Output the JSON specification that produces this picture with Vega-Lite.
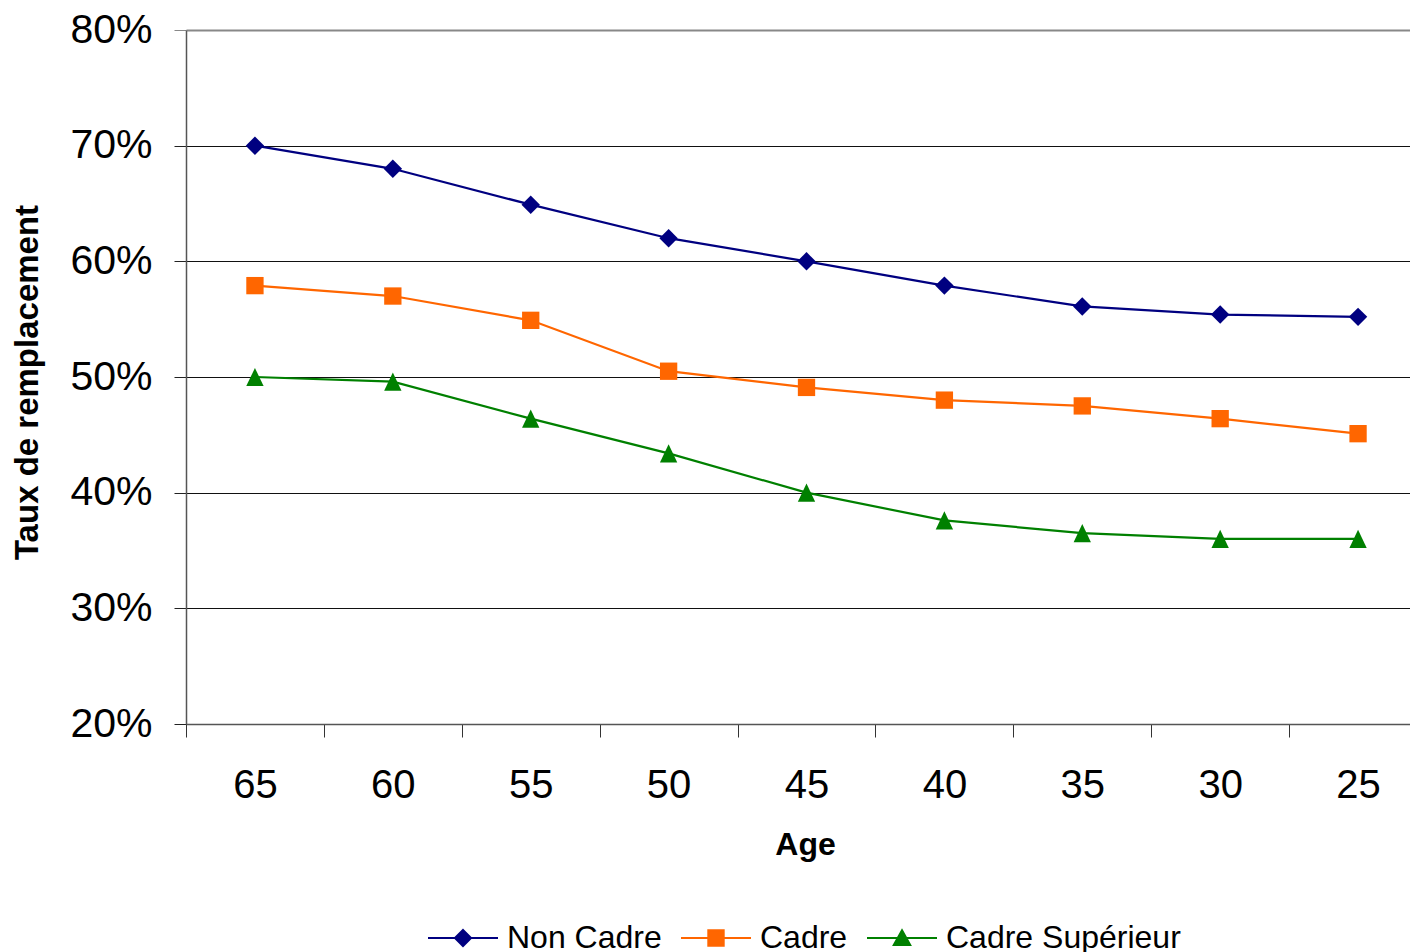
{
  "$schema": "https://vega.github.io/schema/vega-lite/v6.json",
  "width": 1224,
  "height": 694,
  "autosize": "none",
  "padding": {"left": 186, "top": 30, "right": 0, "bottom": 228},
  "background": "white",
  "config": {
    "view": {"stroke": null},
    "font": "Liberation Sans"
  },
  "data": {
    "values": [
      {"age": "65", "serie": "Non Cadre", "taux": 0.700},
      {"age": "60", "serie": "Non Cadre", "taux": 0.680},
      {"age": "55", "serie": "Non Cadre", "taux": 0.649},
      {"age": "50", "serie": "Non Cadre", "taux": 0.620},
      {"age": "45", "serie": "Non Cadre", "taux": 0.600},
      {"age": "40", "serie": "Non Cadre", "taux": 0.579},
      {"age": "35", "serie": "Non Cadre", "taux": 0.561},
      {"age": "30", "serie": "Non Cadre", "taux": 0.554},
      {"age": "25", "serie": "Non Cadre", "taux": 0.552},
      {"age": "65", "serie": "Cadre", "taux": 0.579},
      {"age": "60", "serie": "Cadre", "taux": 0.570},
      {"age": "55", "serie": "Cadre", "taux": 0.549},
      {"age": "50", "serie": "Cadre", "taux": 0.505},
      {"age": "45", "serie": "Cadre", "taux": 0.491},
      {"age": "40", "serie": "Cadre", "taux": 0.480},
      {"age": "35", "serie": "Cadre", "taux": 0.475},
      {"age": "30", "serie": "Cadre", "taux": 0.464},
      {"age": "25", "serie": "Cadre", "taux": 0.451},
      {"age": "65", "serie": "Cadre Supérieur", "taux": 0.500},
      {"age": "60", "serie": "Cadre Supérieur", "taux": 0.496},
      {"age": "55", "serie": "Cadre Supérieur", "taux": 0.464},
      {"age": "50", "serie": "Cadre Supérieur", "taux": 0.434},
      {"age": "45", "serie": "Cadre Supérieur", "taux": 0.400},
      {"age": "40", "serie": "Cadre Supérieur", "taux": 0.376},
      {"age": "35", "serie": "Cadre Supérieur", "taux": 0.365},
      {"age": "30", "serie": "Cadre Supérieur", "taux": 0.360},
      {"age": "25", "serie": "Cadre Supérieur", "taux": 0.360}
    ]
  },
  "encoding": {
    "x": {
      "field": "age",
      "type": "ordinal",
      "sort": ["65", "60", "55", "50", "45", "40", "35", "30", "25"],
      "scale": {"type": "band", "range": [0, 1241], "paddingInner": 0, "paddingOuter": 0},
      "axis": {
        "title": "Age",
        "titleFontSize": 32,
        "titleFontWeight": "bold",
        "titleColor": "black",
        "titleX": 619,
        "titlePadding": 24,
        "labelFontSize": 40,
        "labelColor": "black",
        "labelAngle": 0,
        "labelPadding": 28,
        "tickBand": "extent",
        "tickSize": 13,
        "tickColor": "#333333",
        "domainColor": "#555555",
        "domainWidth": 1.5,
        "grid": false
      }
    },
    "y": {
      "field": "taux",
      "type": "quantitative",
      "scale": {"domain": [0.2, 0.8], "nice": false},
      "axis": {
        "title": "Taux de remplacement",
        "titleFontSize": 33,
        "titleFontWeight": "bold",
        "titleColor": "black",
        "titlePadding": 25,
        "titleY": 352,
        "values": [0.2, 0.3, 0.4, 0.5, 0.6, 0.7, 0.8],
        "format": ".0%",
        "labelFontSize": 41,
        "labelColor": "black",
        "labelPadding": 22,
        "tickSize": 12,
        "tickColor": {"condition": {"test": "datum.value >= 0.8", "value": "#888888"}, "value": "#222222"},
        "domainColor": "#555555",
        "domainWidth": 1.5,
        "grid": true,
        "gridColor": {"condition": {"test": "datum.value >= 0.8", "value": "#888888"}, "value": "#111111"},
        "gridWidth": {"condition": {"test": "datum.value >= 0.8", "value": 2}, "value": 1},
        "gridOpacity": 1
      }
    }
  },
  "layer": [
    {
      "mark": {"type": "line", "strokeWidth": 2.2},
      "encoding": {
        "color": {
          "field": "serie",
          "type": "nominal",
          "scale": {
            "domain": ["Non Cadre", "Cadre", "Cadre Supérieur"],
            "range": ["#000080", "#FF6600", "#008000"]
          },
          "legend": {
            "title": null,
            "orient": "none",
            "direction": "horizontal",
            "legendX": 241,
            "legendY": 872,
            "labelFontSize": 32,
            "labelColor": "black",
            "labelLimit": 500,
            "labelOffset": 8,
            "columnPadding": 15,
            "symbolSize": 4900,
            "symbolStrokeWidth": 2,
            "symbolType": {"expr": "datum.value === 'Non Cadre' ? 'M-1,0H1M0,-0.23L0.23,0L0,0.23L-0.23,0Z' : datum.value === 'Cadre' ? 'M-1,0H1M-0.22,-0.22H0.22V0.22H-0.22Z' : 'M-1,0H1M0,-0.22L0.235,0.2H-0.235Z'"},
            "symbolFillColor": {"expr": "scale('color', datum.value)"},
            "symbolOpacity": 1
          }
        }
      }
    },
    {
      "transform": [{"filter": "datum.serie === 'Non Cadre'"}],
      "mark": {"type": "point", "filled": true, "size": 340, "opacity": 1, "shape": "diamond"},
      "encoding": {"color": {"field": "serie", "type": "nominal", "legend": null}}
    },
    {
      "transform": [{"filter": "datum.serie === 'Cadre'"}],
      "mark": {"type": "point", "filled": true, "size": 300, "opacity": 1, "shape": "square"},
      "encoding": {"color": {"field": "serie", "type": "nominal", "legend": null}}
    },
    {
      "transform": [{"filter": "datum.serie === 'Cadre Supérieur'"}],
      "mark": {"type": "point", "filled": true, "size": 300, "opacity": 1, "shape": "M0,-1.05L1,1.05H-1Z"},
      "encoding": {"color": {"field": "serie", "type": "nominal", "legend": null}}
    }
  ]
}
